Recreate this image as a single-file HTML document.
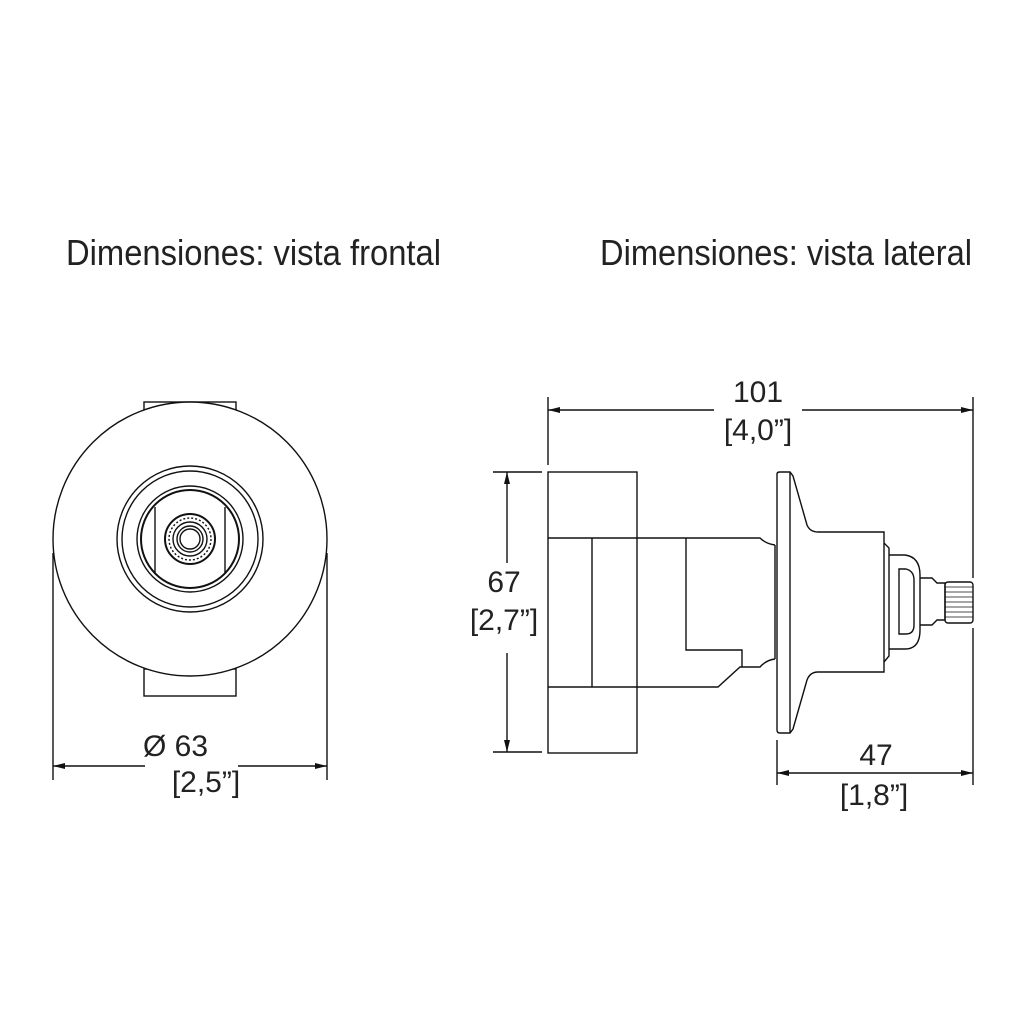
<!DOCTYPE html>
<html><head><meta charset="utf-8"><style>html,body{margin:0;padding:0;background:#fff}svg{display:block}</style></head>
<body>
<svg width="1024" height="1028" viewBox="0 0 1024 1028" xmlns="http://www.w3.org/2000/svg">
<defs>
<marker id="a" viewBox="0 0 12 6" refX="12" refY="3" markerWidth="12" markerHeight="6" orient="auto-start-reverse" markerUnits="userSpaceOnUse"><path d="M0,0 L12,3 L0,6 Z" fill="#111"/></marker>
</defs>
<g font-family="Liberation Sans, Arial, sans-serif" fill="#222">
<text x="66" y="265" font-size="36" textLength="375" lengthAdjust="spacingAndGlyphs">Dimensiones: vista frontal</text>
<text x="600" y="265" font-size="36" textLength="372" lengthAdjust="spacingAndGlyphs">Dimensiones: vista lateral</text>
<g font-size="30">
<text x="758" y="402" text-anchor="middle">101</text>
<text x="758" y="440" text-anchor="middle">[4,0”]</text>
<text x="504" y="592" text-anchor="middle">67</text>
<text x="504" y="630" text-anchor="middle">[2,7”]</text>
<text x="143" y="756">Ø 63</text>
<text x="206" y="792" text-anchor="middle">[2,5”]</text>
<text x="876" y="765" text-anchor="middle">47</text>
<text x="874" y="805" text-anchor="middle">[1,8”]</text>
</g>
</g>
<g fill="none" stroke="#111" stroke-width="1.4">
<rect x="144" y="402" width="92" height="20"/>
<rect x="144" y="669" width="92" height="27"/>
<circle cx="190" cy="539" r="137" fill="#fff"/>
<line x1="53" y1="553" x2="53" y2="780"/>
<line x1="327" y1="553" x2="327" y2="780"/>
<circle cx="190" cy="539" r="73"/>
<circle cx="190" cy="539" r="68"/>
<circle cx="190" cy="539" r="53"/>
<circle cx="190" cy="539" r="49" stroke-width="2"/>
<line x1="155" y1="507" x2="155" y2="573"/>
<line x1="225" y1="507" x2="225" y2="573"/>
<circle cx="190" cy="539" r="25" stroke-width="2"/>
<circle cx="190" cy="539" r="21" stroke-dasharray="2 2"/>
<circle cx="190" cy="539" r="17"/>
<circle cx="190" cy="539" r="13"/>
<circle cx="190" cy="539" r="10"/>
<line x1="53" y1="766" x2="145" y2="766" marker-start="url(#a)"/>
<line x1="238" y1="766" x2="327" y2="766" marker-end="url(#a)"/>
<rect x="548" y="472" width="89" height="281"/>
<path d="M548,538 L760,538 Q766,544 775,545"/>
<path d="M548,687 L718,687 L740,667 L760,667 Q766,660 775,659"/>
<line x1="592" y1="538" x2="592" y2="687"/>
<path d="M686,538 L686,650 L742,650 L742,667"/>
<line x1="775" y1="545" x2="775" y2="659"/>
<path d="M777,474 Q777,472 780,472 L790,472 L793,476 L807,525 Q810,532 818,532 L884,532 L884,672 L818,672 Q810,672 807,680 L793,729 L790,733 L780,733 Q777,733 777,730 Z" fill="#fff"/>
<line x1="790" y1="472" x2="790" y2="733"/>
<path d="M884,543 L889,548 L889,656 L884,662"/>
<path d="M889,555 L905,555 Q920,557 920,575 L920,630 Q920,649 905,649 L889,649"/>
<path d="M899,569 L906,569 Q914,571 914,580 L914,625 Q914,634 906,634 L899,634 Z"/>
<path d="M920,578 L932,578 L937,583 L945,583 L945,620 L937,620 L932,625 L920,625"/>
<rect x="945" y="582" width="28" height="41" rx="3"/>
<g stroke-width="0.8"><line x1="945" y1="587" x2="973" y2="587"/><line x1="945" y1="592" x2="973" y2="592"/><line x1="945" y1="597" x2="973" y2="597"/><line x1="945" y1="602" x2="973" y2="602"/><line x1="945" y1="607" x2="973" y2="607"/><line x1="945" y1="612" x2="973" y2="612"/><line x1="945" y1="617" x2="973" y2="617"/></g>
<line x1="548" y1="397" x2="548" y2="465"/>
<line x1="973" y1="397" x2="973" y2="578"/>
<line x1="548" y1="410" x2="714" y2="410" marker-start="url(#a)"/>
<line x1="802" y1="410" x2="973" y2="410" marker-end="url(#a)"/>
<line x1="493" y1="472" x2="542" y2="472"/>
<line x1="493" y1="752" x2="542" y2="752"/>
<line x1="507" y1="472" x2="507" y2="563" marker-start="url(#a)"/>
<line x1="507" y1="653" x2="507" y2="752" marker-end="url(#a)"/>
<line x1="777" y1="740" x2="777" y2="785"/>
<line x1="973" y1="628" x2="973" y2="785"/>
<line x1="777" y1="773" x2="973" y2="773" marker-start="url(#a)" marker-end="url(#a)"/>
</g>
</svg>
</body></html>
